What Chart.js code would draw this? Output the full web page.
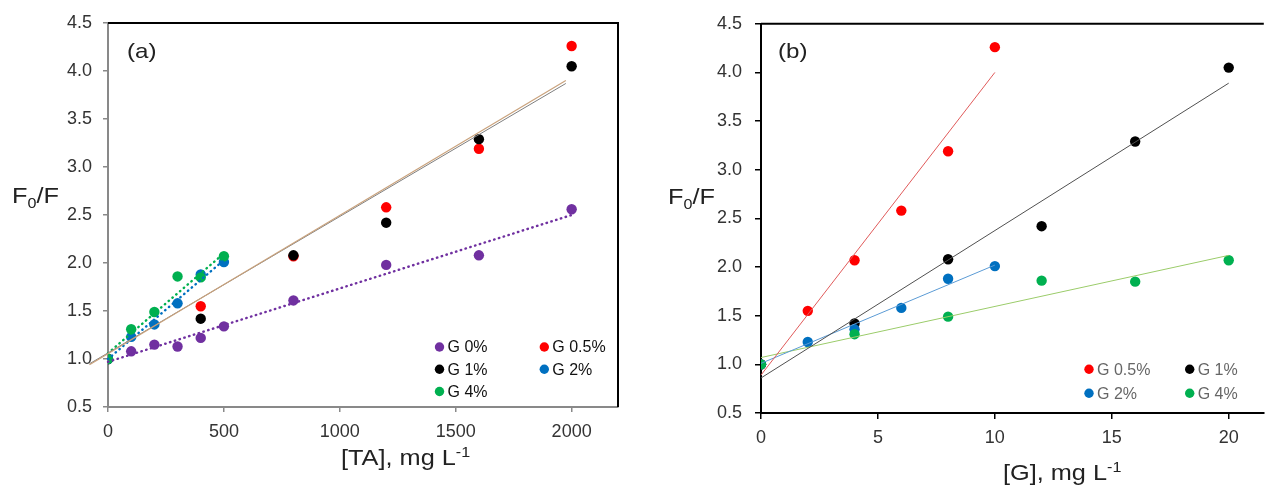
<!DOCTYPE html>
<html>
<head>
<meta charset="utf-8">
<script src="https://cdn.jsdelivr.net/npm/chart.js@4.4.1/dist/chart.umd.min.js"></script>
<style>
  html, body { margin: 0; padding: 0; background: #fff; overflow: hidden; }
  #wrap { position: relative; width: 1269px; height: 486px; }
  canvas { position: absolute; top: 0; }
  #chartA { left: 0; }
  #chartB { left: 640px; }
</style>
</head>
<body>
<div id="wrap">
  <canvas id="chartA" width="640" height="486"></canvas>
  <canvas id="chartB" width="629" height="486"></canvas>
</div>
<script>
// (a) F0/F against tannic acid, mg/L
const taG0 = [0, 100, 200, 300, 400, 500, 800, 1200, 1600, 2000];
const fG0 = [1.0, 1.08, 1.15, 1.13, 1.22, 1.34, 1.61, 1.98, 2.08, 2.56];
const taG05 = [0, 400, 800, 1200, 1600, 2000];
const fG05 = [1.0, 1.55, 2.07, 2.58, 3.19, 4.26];
const taG1 = [0, 400, 800, 1200, 1600, 2000];
const fG1 = [1.0, 1.42, 2.08, 2.42, 3.29, 4.05];
const taG2 = [0, 100, 200, 300, 400, 500];
const fG2 = [1.0, 1.23, 1.36, 1.58, 1.88, 2.01];
const taG4 = [0, 100, 200, 300, 400, 500];
const fG4 = [1.0, 1.31, 1.49, 1.86, 1.85, 2.07];

// (b) same points against gelatin, mg/L
const gG05 = [0, 2, 4, 6, 8, 10];
const gG1 = [0, 4, 8, 12, 16, 20];
const gG2 = [0, 2, 4, 6, 8, 10];
const gG4 = [0, 4, 8, 12, 16, 20];

// trendline ends
const fitAG0x = [0, 2000], fitAG0y = [0.97, 2.50];
const fitAG05x = [-80, 1975], fitAG05y = [0.94, 3.90];
const fitAG1x = [-80, 1975], fitAG1y = [0.95, 3.87];
const fitAG2x = [0, 500], fitAG2y = [1.0, 2.03];
const fitAG4x = [0, 500], fitAG4y = [1.06, 2.10];

const fitBG05x = [0, 10], fitBG05y = [0.89, 4.0];
const fitBG1x = [0, 20], fitBG1y = [0.86, 3.89];
const fitBG2x = [0, 10], fitBG2y = [1.01, 2.02];
const fitBG4x = [0, 20], fitBG4y = [1.07, 2.12];

// axis ticks
const fTicks = [0.5, 1.0, 1.5, 2.0, 2.5, 3.0, 3.5, 4.0, 4.5];
const taTicks = [0, 500, 1000, 1500, 2000];
const gTicks = [0, 5, 10, 15, 20];

const FONT = '"Liberation Sans", Arial, sans-serif';
const PURPLE = '#7030a0', RED = '#ff0000', BLACK = '#000000', BLUE = '#0070c0', GREEN = '#00b050';

const pts = (xs, ys) => xs.map((x, i) => ({ x: x, y: ys[i] }));

function dots(label, xs, ys, color, order) {
  return {
    label: label, data: pts(xs, ys), showLine: false,
    pointRadius: 5.2, pointHoverRadius: 5.2, pointBorderWidth: 0,
    backgroundColor: color, borderColor: color, order: order
  };
}

function fit(xs, ys, color, width, dotted) {
  return {
    label: '', data: pts(xs, ys), showLine: true, pointRadius: 0,
    borderColor: color, borderWidth: width, fill: false, order: 0, clip: false,
    borderDash: dotted ? [0.5, 4.5] : [], borderCapStyle: dotted ? 'round' : 'butt'
  };
}

function drawRich(ctx, parts, x, y, color, sx) {
  ctx.save();
  ctx.fillStyle = color;
  ctx.textBaseline = 'alphabetic';
  ctx.textAlign = 'left';
  ctx.translate(x, y);
  ctx.scale(sx, 1);
  let cx = 0;
  parts.forEach(p => {
    ctx.font = p.size + 'px ' + FONT;
    ctx.fillText(p.t, cx, p.dy || 0);
    cx += ctx.measureText(p.t).width;
  });
  ctx.restore();
}

// plot frame, point legend and free labels
const decor = {
  id: 'decor',
  afterDraw(chart, args, opts) {
    const ctx = chart.ctx;
    const a = chart.chartArea;
    ctx.save();
    ctx.strokeStyle = '#000';
    ctx.lineWidth = 2;
    ctx.beginPath();
    ctx.moveTo(a.left, a.top);
    ctx.lineTo(a.right, a.top);
    if (opts.rightBorder) ctx.lineTo(a.right, a.bottom);
    ctx.stroke();
    ctx.restore();

    const leg = opts.legend;
    const sets = chart.data.datasets.filter(d => d.label);
    sets.forEach((d, i) => {
      const x = leg.cols[i % leg.cols.length];
      const y = leg.rows[Math.floor(i / leg.cols.length)];
      ctx.save();
      ctx.fillStyle = d.backgroundColor;
      ctx.beginPath();
      ctx.arc(x, y, 4.7, 0, Math.PI * 2);
      ctx.fill();
      ctx.fillStyle = leg.color;
      ctx.font = '16px ' + FONT;
      ctx.textBaseline = 'middle';
      ctx.fillText(d.label, x + 8, y + 1);
      ctx.restore();
    });

    opts.texts.forEach(t => drawRich(ctx, t.parts, t.x, t.y, '#222', 1.15));
  }
};

function yTitle(x, y) {
  return { x: x, y: y, parts: [{ t: 'F', size: 22 }, { t: '0', size: 14, dy: 5 }, { t: '/F', size: 22 }] };
}
function xTitle(x, y, name) {
  return { x: x, y: y, parts: [{ t: '[' + name + '], mg L', size: 22 }, { t: '-1', size: 14, dy: -8 }] };
}

function scales(o) {
  return {
    x: {
      type: 'linear', position: 'bottom', min: o.xMin, max: o.xMax,
      afterBuildTicks: s => { s.ticks = o.xTicks.map(v => ({ value: v })); },
      afterFit: s => { s.height = o.xHeight; },
      border: { color: o.axis, width: 2 },
      grid: { drawOnChartArea: false, drawTicks: true, tickLength: o.tick, color: o.axis, lineWidth: 1.5 },
      ticks: { color: '#333', font: { family: FONT, size: 18 }, padding: o.xPad, maxRotation: 0, callback: v => String(v) }
    },
    y: {
      type: 'linear', position: 'left', min: 0.5, max: 4.5,
      afterBuildTicks: s => { s.ticks = fTicks.map(v => ({ value: v })); },
      afterFit: s => { s.width = o.yWidth; },
      border: { color: o.axis, width: 2 },
      grid: { drawOnChartArea: false, drawTicks: true, tickLength: o.tick, color: o.axis, lineWidth: 1.5 },
      ticks: { color: '#333', font: { family: FONT, size: 18 }, padding: o.yPad, callback: v => v.toFixed(1) }
    }
  };
}

new Chart(document.getElementById('chartA'), {
  type: 'scatter',
  data: {
    datasets: [
      dots('G 0%', taG0, fG0, PURPLE, 5),
      dots('G 0.5%', taG05, fG05, RED, 4),
      dots('G 1%', taG1, fG1, BLACK, 3),
      dots('G 2%', taG2, fG2, BLUE, 2),
      dots('G 4%', taG4, fG4, GREEN, 1),
      fit(fitAG0x, fitAG0y, PURPLE, 2.4, true),
      fit(fitAG05x, fitAG05y, '#c9a27c', 1.2, false),
      fit(fitAG1x, fitAG1y, '#7f7f7f', 1, false),
      fit(fitAG2x, fitAG2y, BLUE, 2.4, true),
      fit(fitAG4x, fitAG4y, GREEN, 2.4, true)
    ]
  },
  options: {
    responsive: false, animation: false, events: [], devicePixelRatio: 1,
    layout: { padding: { top: 23, right: 22, left: 0, bottom: 0 } },
    scales: scales({ xMin: 0, xMax: 2200, xTicks: taTicks, xHeight: 79, yWidth: 108, axis: '#898989', tick: 5, xPad: 9, yPad: 11 }),
    plugins: {
      legend: { display: false },
      tooltip: { enabled: false },
      decor: {
        rightBorder: true,
        legend: { cols: [439.5, 544.3], rows: [347, 369.3, 391.5], color: '#111' },
        texts: [yTitle(12, 203), xTitle(341, 465, 'TA'), { x: 127, y: 57.5, parts: [{ t: '(a)', size: 21 }] }]
      }
    }
  },
  plugins: [decor]
});

new Chart(document.getElementById('chartB'), {
  type: 'scatter',
  data: {
    datasets: [
      dots('G 0.5%', gG05, fG05, RED, 4),
      dots('G 1%', gG1, fG1, BLACK, 3),
      dots('G 2%', gG2, fG2, BLUE, 2),
      dots('G 4%', gG4, fG4, GREEN, 1),
      fit(fitBG05x, fitBG05y, '#e05a5a', 1, false),
      fit(fitBG1x, fitBG1y, '#505050', 1, false),
      fit(fitBG2x, fitBG2y, '#5b9bd5', 1, false),
      fit(fitBG4x, fitBG4y, '#9bcc6a', 1, false)
    ]
  },
  options: {
    responsive: false, animation: false, events: [], devicePixelRatio: 1,
    layout: { padding: { top: 23, right: 0, left: 0, bottom: 0 } },
    scales: scales({ xMin: 0, xMax: 21.5, xTicks: gTicks, xHeight: 73, yWidth: 121, axis: '#000', tick: 6, xPad: 8, yPad: 13 }),
    plugins: {
      legend: { display: false },
      tooltip: { enabled: false },
      decor: {
        rightBorder: false,
        legend: { cols: [449, 549.7], rows: [369.3, 393.3], color: '#666' },
        texts: [yTitle(28, 204), xTitle(363, 480, 'G'), { x: 138, y: 58, parts: [{ t: '(b)', size: 21 }] }]
      }
    }
  },
  plugins: [decor]
});
</script>
</body>
</html>
